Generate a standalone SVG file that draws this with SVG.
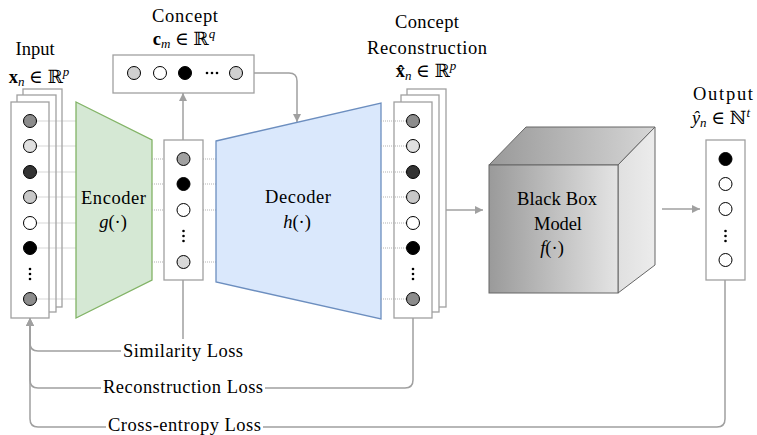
<svg xmlns="http://www.w3.org/2000/svg" width="757" height="435" viewBox="0 0 757 435">
<defs>
<style>
text{font-family:'Liberation Serif','Times New Roman','DejaVu Serif',serif;font-size:18.5px;fill:#000;}
.t{text-anchor:middle;}
.sheet{fill:#fff;stroke:#a0a0a0;stroke-width:1.3;}
.dot{stroke:#a8a8a8;stroke-width:0.9;stroke-dasharray:1 1;fill:none;}
.c{stroke:#000;stroke-width:1;}
.vd{fill:#000;}
.edge{fill:none;stroke:#a0a0a0;stroke-width:1.5;}
.lbl{fill:#fff;}
.sub{font-style:italic;font-size:13px;}
.it{font-style:italic;}
</style>
<marker id="arr" markerWidth="8" markerHeight="8" refX="8" refY="4" orient="auto" markerUnits="userSpaceOnUse">
<path d="M0,0 L8,4 L0,8 z" fill="#a0a0a0"/>
</marker>
<linearGradient id="gFront" x1="0" y1="0" x2="1" y2="0">
<stop offset="0" stop-color="#9a9a9a"/><stop offset="1" stop-color="#e4e4e4"/>
</linearGradient>
<linearGradient id="gTop" x1="0" y1="0" x2="1" y2="0">
<stop offset="0" stop-color="#999"/><stop offset="1" stop-color="#d6d6d6"/>
</linearGradient>
<linearGradient id="gSide" x1="0" y1="0" x2="1" y2="0">
<stop offset="0" stop-color="#e0e0e0"/><stop offset="1" stop-color="#ececec"/>
</linearGradient>
</defs>
<rect width="757" height="435" fill="#fff"/>

<g id="connectors">
<path class="edge" d="M183,140 V93" marker-end="url(#arr)"/>
<path class="edge" d="M254,73 H289 Q297,73 297,81 V122" marker-end="url(#arr)"/>
<path class="edge" d="M439,210 H483" marker-end="url(#arr)"/>
<path class="edge" d="M662,209 H700" marker-end="url(#arr)"/>
<path class="edge" d="M183,280 V351 H38 Q30,351 30,343 V318" marker-end="url(#arr)"/>
<path class="edge" d="M413,318 V380 Q413,388 405,388 H38 Q30,388 30,380 V318" marker-end="url(#arr)"/>
<path class="edge" d="M725,280 V419 Q725,427 717,427 H38 Q30,427 30,419 V318" marker-end="url(#arr)"/>
<rect class="lbl" x="121" y="339" width="124" height="22"/>
<text class="t" x="183" y="357" textLength="120">Similarity Loss</text>
<rect class="lbl" x="101" y="377" width="164" height="21"/>
<text class="t" x="183" y="393" textLength="160">Reconstruction Loss</text>
<rect class="lbl" x="106" y="416" width="157" height="19"/>
<text class="t" x="184.5" y="431" textLength="153">Cross-entropy Loss</text>
</g>

<g id="input">
<text class="t" x="35" y="55">Input</text>
<text class="t" x="39" y="83"><tspan font-weight="bold">x</tspan><tspan class="sub" dy="3">n</tspan><tspan dy="-3"> ∈ ℝ</tspan><tspan class="sub" dy="-7">p</tspan></text>
<rect class="sheet" x="23" y="89" width="39" height="218"/>
<rect class="sheet" x="17" y="95" width="39" height="217"/>
<rect class="sheet" x="11" y="102" width="38" height="216"/>
<line class="dot" x1="36.5" y1="121" x2="76" y2="121"/>
<line class="dot" x1="36.5" y1="146" x2="76" y2="146"/>
<line class="dot" x1="36.5" y1="172" x2="76" y2="172"/>
<line class="dot" x1="36.5" y1="197" x2="76" y2="197"/>
<line class="dot" x1="36.5" y1="223" x2="76" y2="223"/>
<line class="dot" x1="36.5" y1="248" x2="76" y2="248"/>
<line class="dot" x1="36.5" y1="299" x2="76" y2="299"/>
<circle class="c" cx="30" cy="121" r="6.5" fill="#8c8c8c"/>
<circle class="c" cx="30" cy="146" r="6.5" fill="#e0e0e0"/>
<circle class="c" cx="30" cy="172" r="6.5" fill="#333"/>
<circle class="c" cx="30" cy="197" r="6.5" fill="#c8c8c8"/>
<circle class="c" cx="30" cy="223" r="6.5" fill="#fff"/>
<circle class="c" cx="30" cy="248" r="6.5" fill="#000"/>
<circle class="vd" cx="30" cy="269" r="1.3"/>
<circle class="vd" cx="30" cy="274" r="1.3"/>
<circle class="vd" cx="30" cy="279" r="1.3"/>
<circle class="c" cx="30" cy="299" r="6.5" fill="#8c8c8c"/>
</g>

<g id="encoder">
<polygon points="76,102 152,140 152,280 76,318" fill="#d5e8d4" stroke="#82b366" stroke-width="1.3"/>
<text class="t" x="113.5" y="204" textLength="65">Encoder</text>
<text class="t" x="113" y="228"><tspan class="it">g</tspan>(·)</text>
</g>

<g id="latent">
<line class="dot" x1="152" y1="159" x2="177" y2="159"/>
<line class="dot" x1="152" y1="184" x2="177" y2="184"/>
<line class="dot" x1="152" y1="210" x2="177" y2="210"/>
<line class="dot" x1="152" y1="262" x2="177" y2="262"/>
<line class="dot" x1="189" y1="159" x2="216" y2="159"/>
<line class="dot" x1="189" y1="184" x2="216" y2="184"/>
<line class="dot" x1="189" y1="210" x2="216" y2="210"/>
<line class="dot" x1="189" y1="262" x2="216" y2="262"/>
<rect class="sheet" x="164" y="140" width="39" height="140"/>
<circle class="c" cx="183.5" cy="159" r="6.5" fill="#a0a0a0"/>
<circle class="c" cx="183.5" cy="184" r="6.5" fill="#000"/>
<circle class="c" cx="183.5" cy="210" r="6.5" fill="#fff"/>
<circle class="vd" cx="183.5" cy="231" r="1.3"/>
<circle class="vd" cx="183.5" cy="236" r="1.3"/>
<circle class="vd" cx="183.5" cy="241" r="1.3"/>
<circle class="c" cx="183.5" cy="262" r="6.5" fill="#d8d8d8"/>
</g>

<g id="concept">
<text class="t" x="185" y="22" textLength="66">Concept</text>
<text class="t" x="184" y="45"><tspan font-weight="bold">c</tspan><tspan class="sub" dy="3">m</tspan><tspan dy="-3"> ∈ ℝ</tspan><tspan class="sub" dy="-7">q</tspan></text>
<rect class="sheet" x="113" y="55" width="141" height="38"/>
<circle class="c" cx="134" cy="73" r="6.5" fill="#d0d0d0"/>
<circle class="c" cx="160" cy="73" r="6.5" fill="#fff"/>
<circle class="c" cx="185" cy="73" r="6.5" fill="#000"/>
<circle class="vd" cx="207" cy="73" r="1.3"/>
<circle class="vd" cx="212" cy="73" r="1.3"/>
<circle class="vd" cx="217" cy="73" r="1.3"/>
<circle class="c" cx="236" cy="73" r="6.5" fill="#d0d0d0"/>
</g>

<g id="decoder">
<polygon points="216,141 381,103 381,319 216,282" fill="#dae8fc" stroke="#6c8ebf" stroke-width="1.3"/>
<text class="t" x="298" y="203" textLength="66">Decoder</text>
<text class="t" x="297" y="228"><tspan class="it">h</tspan>(·)</text>
</g>

<g id="reconstruction">
<text class="t" x="427" y="28" textLength="64">Concept</text>
<text class="t" x="427" y="54" textLength="120">Reconstruction</text>
<text class="t" x="426" y="77"><tspan font-weight="bold">x&#x302;</tspan><tspan class="sub" dy="3">n</tspan><tspan dy="-3"> ∈ ℝ</tspan><tspan class="sub" dy="-7">p</tspan></text>
<rect class="sheet" x="407" y="89" width="39" height="218"/>
<rect class="sheet" x="401" y="95" width="38" height="217"/>
<rect class="sheet" x="394" y="102" width="38" height="216"/>
<line class="dot" x1="381" y1="121" x2="406.5" y2="121"/>
<line class="dot" x1="381" y1="146" x2="406.5" y2="146"/>
<line class="dot" x1="381" y1="172" x2="406.5" y2="172"/>
<line class="dot" x1="381" y1="197" x2="406.5" y2="197"/>
<line class="dot" x1="381" y1="223" x2="406.5" y2="223"/>
<line class="dot" x1="381" y1="248" x2="406.5" y2="248"/>
<line class="dot" x1="381" y1="299" x2="406.5" y2="299"/>
<circle class="c" cx="413" cy="121" r="6.5" fill="#8c8c8c"/>
<circle class="c" cx="413" cy="146" r="6.5" fill="#e0e0e0"/>
<circle class="c" cx="413" cy="172" r="6.5" fill="#333"/>
<circle class="c" cx="413" cy="197" r="6.5" fill="#c8c8c8"/>
<circle class="c" cx="413" cy="223" r="6.5" fill="#fff"/>
<circle class="c" cx="413" cy="248" r="6.5" fill="#000"/>
<circle class="vd" cx="413" cy="269" r="1.3"/>
<circle class="vd" cx="413" cy="274" r="1.3"/>
<circle class="vd" cx="413" cy="279" r="1.3"/>
<circle class="c" cx="413" cy="299" r="6.5" fill="#8c8c8c"/>
</g>

<g id="blackbox">
<polygon points="489,165 526,127 655,127 618,165" fill="url(#gTop)" stroke="#666" stroke-width="1"/>
<polygon points="618,165 655,127 655,265 618,293" fill="url(#gSide)" stroke="#666" stroke-width="1"/>
<rect x="489" y="165" width="129" height="128" fill="url(#gFront)" stroke="#666" stroke-width="1"/>
<text class="t" x="557" y="205" textLength="80">Black Box</text>
<text class="t" x="558" y="230" textLength="48">Model</text>
<text class="t" x="552" y="254"><tspan class="it">f</tspan>(·)</text>
</g>

<g id="output">
<text class="t" x="723" y="100" textLength="60">Output</text>
<text class="t" x="721" y="124"><tspan class="it">&#x177;</tspan><tspan class="sub" dy="3">n</tspan><tspan dy="-3"> ∈ ℕ</tspan><tspan class="sub" dy="-7">t</tspan></text>
<rect class="sheet" x="706" y="140" width="39" height="140"/>
<circle class="c" cx="725.5" cy="159" r="6.5" fill="#000"/>
<circle class="c" cx="725.5" cy="184" r="6.5" fill="#fff"/>
<circle class="c" cx="725.5" cy="209" r="6.5" fill="#fff"/>
<circle class="vd" cx="725.5" cy="231" r="1.3"/>
<circle class="vd" cx="725.5" cy="236" r="1.3"/>
<circle class="vd" cx="725.5" cy="241" r="1.3"/>
<circle class="c" cx="725.5" cy="260" r="6.5" fill="#fff"/>
</g>
</svg>
